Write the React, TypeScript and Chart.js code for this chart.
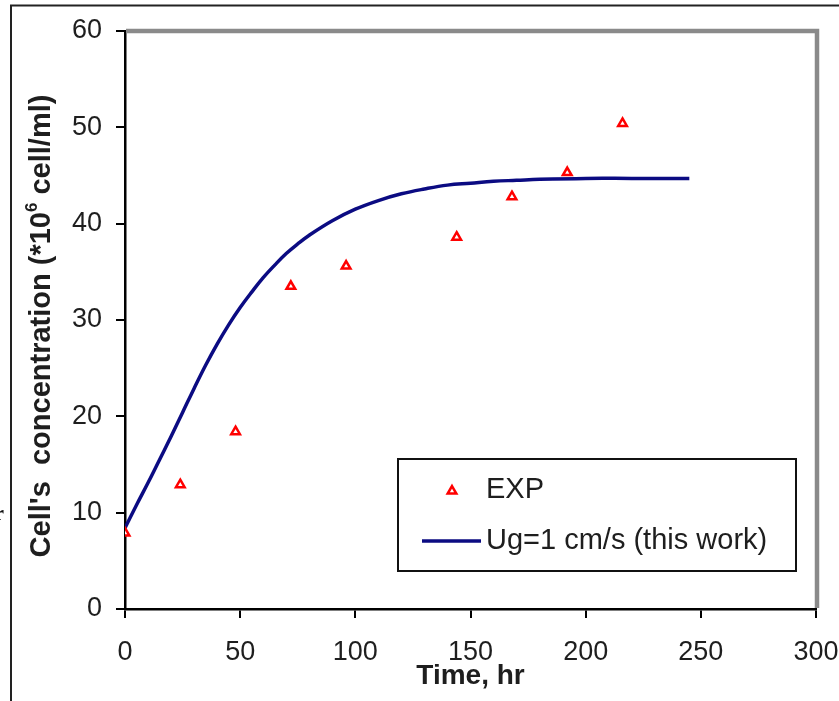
import React, { useEffect, useRef } from 'react';
import { Chart, registerables } from 'chart.js';

Chart.register(...registerables);

const FONT = '"Liberation Sans", Arial, sans-serif';

const expTime = [0, 24, 48, 72, 96, 144, 168, 192, 216];
const expConc = [7.9, 12.9, 18.4, 33.5, 35.6, 38.6, 42.8, 45.3, 50.4];

const modelTime = [0, 5, 10, 15, 20, 25, 30, 35, 40, 45, 50, 55, 60, 65, 70, 75, 80, 90, 100, 110, 120, 130, 140, 150, 160, 170, 180, 200, 220, 245];
const modelConc = [8.4, 10.8, 13.1, 15.5, 17.9, 20.4, 22.9, 25.3, 27.5, 29.5, 31.3, 32.9, 34.4, 35.7, 36.9, 37.9, 38.8, 40.3, 41.5, 42.4, 43.1, 43.6, 44.0, 44.2, 44.4, 44.5, 44.6, 44.7, 44.7, 44.7];

const xTicks = [0, 50, 100, 150, 200, 250, 300];
const yTicks = [0, 10, 20, 30, 40, 50, 60];

const seriesLabels = ['EXP', 'Ug=1 cm/s (this work)'];
const xTitle = 'Time, hr';
const yTitleParts = ["Cell's  concentration (*10", '6', ' cell/ml)'];

const EXP_COLOR = '#ff0000';
const LINE_COLOR = '#0b0b82';
const TEXT_COLOR = '#1e1e1e';

function drawTriangle(ctx: CanvasRenderingContext2D, x: number, y: number, r: number) {
  ctx.beginPath();
  let rad = 0;
  ctx.moveTo(x + Math.sin(rad) * r, y - Math.cos(rad) * r);
  rad += (2 * Math.PI) / 3;
  ctx.lineTo(x + Math.sin(rad) * r, y - Math.cos(rad) * r);
  rad += (2 * Math.PI) / 3;
  ctx.lineTo(x + Math.sin(rad) * r, y - Math.cos(rad) * r);
  ctx.closePath();
}

const framePlugin = {
  id: 'framePlugin',
  afterDraw(chart: any) {
    const ctx: CanvasRenderingContext2D = chart.ctx;
    const area = chart.chartArea;
    ctx.save();

    // outer page frame
    ctx.strokeStyle = '#222';
    ctx.lineWidth = 2;
    ctx.beginPath();
    ctx.moveTo(11, 701);
    ctx.lineTo(11, 5.5);
    ctx.lineTo(839, 5.5);
    ctx.stroke();

    // stray clipped glyph at left edge
    ctx.fillStyle = '#111';
    ctx.font = 'bold 22px "Liberation Serif", serif';
    ctx.textBaseline = 'middle';
    ctx.textAlign = 'right';
    ctx.fillText('r', 4, 514);

    // gray top/right plot border
    ctx.strokeStyle = '#8a8a8a';
    ctx.lineWidth = 4.5;
    ctx.beginPath();
    ctx.moveTo(area.left + 1, area.top);
    ctx.lineTo(area.right + 1, area.top);
    ctx.lineTo(area.right + 1, area.bottom - 1);
    ctx.stroke();

    // legend box
    const lx = 398, ly = 459, lw = 398, lh = 112;
    ctx.fillStyle = '#fff';
    ctx.fillRect(lx, ly, lw, lh);
    ctx.strokeStyle = '#111';
    ctx.lineWidth = 2;
    ctx.strokeRect(lx, ly, lw, lh);

    drawTriangle(ctx, 452, 491, 5);
    ctx.fillStyle = '#fff';
    ctx.fill();
    ctx.strokeStyle = EXP_COLOR;
    ctx.lineWidth = 2.5;
    ctx.stroke();

    ctx.strokeStyle = LINE_COLOR;
    ctx.lineWidth = 3.5;
    ctx.beginPath();
    ctx.moveTo(422, 541);
    ctx.lineTo(481, 541);
    ctx.stroke();

    ctx.fillStyle = TEXT_COLOR;
    ctx.font = `29px ${FONT}`;
    ctx.textAlign = 'left';
    ctx.textBaseline = 'middle';
    ctx.fillText(seriesLabels[0], 486, 490);
    ctx.fillText(seriesLabels[1], 486, 541);

    // x title
    ctx.font = `bold 28px ${FONT}`;
    ctx.textAlign = 'center';
    ctx.fillText(xTitle, (area.left + area.right) / 2, 676);

    // y title with superscript
    ctx.translate(42, 326);
    ctx.rotate(-Math.PI / 2);
    const mainFont = `bold 29px ${FONT}`;
    const supFont = `bold 17px ${FONT}`;
    ctx.font = mainFont;
    const w0 = ctx.measureText(yTitleParts[0]).width;
    const w2 = ctx.measureText(yTitleParts[2]).width;
    ctx.font = supFont;
    const w1 = ctx.measureText(yTitleParts[1]).width;
    const total = w0 + w1 + w2;
    let cx = -total / 2;
    ctx.textAlign = 'left';
    ctx.textBaseline = 'middle';
    ctx.font = mainFont;
    ctx.fillText(yTitleParts[0], cx, 0);
    cx += w0;
    ctx.font = supFont;
    ctx.fillText(yTitleParts[1], cx, -10);
    cx += w1;
    ctx.font = mainFont;
    ctx.fillText(yTitleParts[2], cx, 0);

    ctx.restore();
  },
};

export default function App() {
  const ref = useRef<HTMLCanvasElement>(null);

  useEffect(() => {
    const canvas = ref.current!;
    const chart = new Chart(canvas, {
      type: 'scatter',
      data: {
        datasets: [
          {
            label: seriesLabels[0],
            data: expTime.map((t, i) => ({ x: t, y: expConc[i] })),
            showLine: false,
            pointStyle: 'triangle',
            pointRadius: 5,
            pointBorderWidth: 2.5,
            borderColor: EXP_COLOR,
            backgroundColor: '#ffffff',
            order: 0,
          },
          {
            label: seriesLabels[1],
            data: modelTime.map((t, i) => ({ x: t, y: modelConc[i] })),
            showLine: true,
            pointRadius: 0,
            borderColor: LINE_COLOR,
            backgroundColor: LINE_COLOR,
            borderWidth: 3.5,
            tension: 0.4,
            fill: false,
            order: 1,
          },
        ],
      } as any,
      options: {
        responsive: false,
        animation: false,
        devicePixelRatio: 1,
        layout: { padding: { left: 0, top: 31, right: 23, bottom: 0 } },
        plugins: { legend: { display: false }, tooltip: { enabled: false } },
        scales: {
          x: {
            type: 'linear',
            min: 0,
            max: 300,
            afterBuildTicks: (s: any) => {
              s.ticks = xTicks.map((v) => ({ value: v }));
            },
            afterFit: (s: any) => {
              s.height = 92;
              s.paddingLeft = 0;
              s.paddingRight = 0;
            },
            grid: { drawOnChartArea: false, tickLength: 9, color: '#000', lineWidth: 2 },
            border: { color: '#000', width: 2.5 },
            ticks: {
              font: { family: FONT, size: 27 },
              color: TEXT_COLOR,
              padding: 18,
              maxRotation: 0,
              autoSkip: false,
            },
          },
          y: {
            type: 'linear',
            min: 0,
            max: 60,
            afterBuildTicks: (s: any) => {
              s.ticks = yTicks.map((v) => ({ value: v }));
            },
            afterFit: (s: any) => {
              s.width = 125;
              s.paddingTop = 0;
              s.paddingBottom = 0;
            },
            grid: { drawOnChartArea: false, tickLength: 9, color: '#000', lineWidth: 2 },
            border: { color: '#000', width: 2.5 },
            ticks: {
              font: { family: FONT, size: 27 },
              color: TEXT_COLOR,
              padding: 14,
              autoSkip: false,
            },
          },
        },
      } as any,
      plugins: [framePlugin],
    });
    return () => chart.destroy();
  }, []);

  return (
    <div style={{ position: 'fixed', left: 0, top: 0, width: 839, height: 701, background: '#fff' }}>
      <canvas ref={ref} width={839} height={701} style={{ display: 'block' }} />
    </div>
  );
}
